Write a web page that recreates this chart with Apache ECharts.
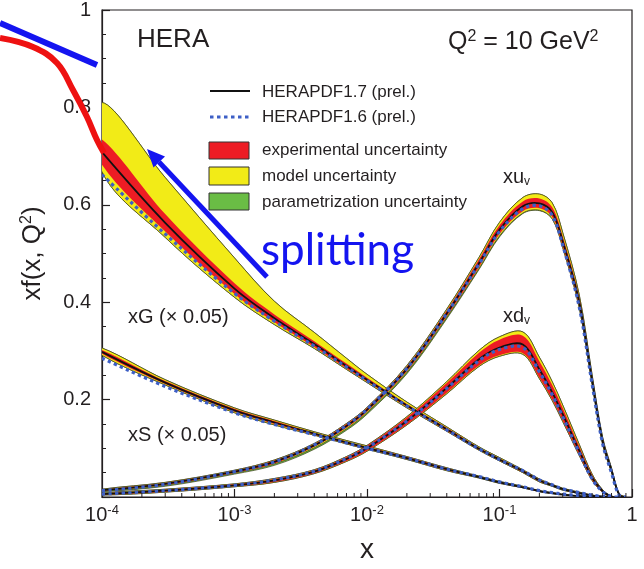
<!DOCTYPE html>
<html><head><meta charset="utf-8">
<script src="https://cdn.jsdelivr.net/npm/echarts@6/dist/echarts.min.js"></script>
<style>html,body{margin:0;padding:0;background:#fff}#c{width:644px;height:569px}</style>
</head><body><div id="c"></div>
<script>
// ---------- data ----------
const xGrid = [1e-4, 3e-4, 1e-3, 2e-3, 4e-3, 7e-3, 0.01, 0.02, 0.04, 0.07, 0.1, 0.15, 0.2, 0.25, 0.3, 0.4, 0.5, 0.6, 0.7, 0.8, 0.9];

// xG (x 0.05), HERAPDF1.7
const gluon      = [0.708, 0.563, 0.428, 0.367, 0.314, 0.269, 0.241, 0.188, 0.139, 0.099, 0.077, 0.053, 0.034, 0.024, 0.016, 0.008, 0.003, 0.001, 0, null, null];
const gluonExp   = [0.026, 0.018, 0.011, 0.008, 0.006, 0.005, 0.004, 0.003, 0.003, 0.002, 0.002, 0.002, 0.002, 0.001, 0.001, 0.001, 0.001, 0, 0, null, null];
const gluonModUp = [0.076, 0.075, 0.052, 0.027, 0.018, 0.011, 0.007, 0.004, 0.002, 0.002, 0.002, 0.001, 0.001, 0.001, 0.001, 0.001, 0, 0, 0, null, null];
const gluonModDn = [0.014, 0.012, 0.007, 0.005, 0.003, 0.002, 0.002, 0.002, 0.001, 0.001, 0.001, 0.001, 0.001, 0.001, 0.001, 0, 0, 0, 0, null, null];
const gluon16    = [0.662, 0.540, 0.418, 0.361, 0.310, 0.267, 0.239, 0.187, 0.138, 0.099, 0.077, 0.054, 0.035, 0.025, 0.017, 0.009, 0.004, 0.001, 0, null, null];

// xS (x 0.05)
const sea      = [0.298, 0.235, 0.178, 0.153, 0.130, 0.112, 0.101, 0.080, 0.057, 0.041, 0.030, 0.020, 0.012, 0.008, 0.005, 0.002, 0.0005, 0, null, null, null];
const seaExp   = [0.004, 0.003, 0.003, 0.003, 0.002, 0.002, 0.002, 0.002, 0.002, 0.001, 0.001, 0.001, 0.001, 0.001, 0, 0, 0, 0, null, null, null];
const seaModUp = [0.004, 0.003, 0.002, 0.002, 0.002, 0.002, 0.002, 0.001, 0.001, 0.001, 0.001, 0.001, 0, 0, 0, 0, 0, 0, null, null, null];
const seaModDn = [0.003, 0.002, 0.002, 0.002, 0.001, 0.001, 0.001, 0.001, 0.001, 0.001, 0.001, 0, 0, 0, 0, 0, 0, 0, null, null, null];
const sea16    = [0.285, 0.227, 0.173, 0.149, 0.128, 0.111, 0.100, 0.080, 0.057, 0.042, 0.031, 0.021, 0.013, 0.009, 0.006, 0.003, 0.001, 0, null, null, null];

// xu_v
const uv      = [0.014, 0.027, 0.052, 0.072, 0.106, 0.146, 0.179, 0.263, 0.377, 0.480, 0.549, 0.597, 0.603, 0.585, 0.525, 0.400, 0.240, 0.115, 0.055, 0.005, 0];
const uvExp   = [0.001, 0.002, 0.002, 0.003, 0.003, 0.004, 0.004, 0.005, 0.006, 0.008, 0.009, 0.010, 0.010, 0.010, 0.010, 0.009, 0.007, 0.005, 0.003, 0.001, 0];
const uvModUp = [0.001, 0.001, 0.001, 0.001, 0.001, 0.001, 0.001, 0.002, 0.003, 0.004, 0.006, 0.008, 0.009, 0.009, 0.008, 0.006, 0.004, 0.003, 0.002, 0.001, 0];
const uvModDn = [0.001, 0.001, 0.001, 0.001, 0.002, 0.002, 0.002, 0.002, 0.002, 0.003, 0.004, 0.004, 0.004, 0.004, 0.003, 0.003, 0.002, 0.002, 0.001, 0, 0];
const uvParDn = [0.001, 0.002, 0.002, 0.003, 0.003, 0.003, 0.003, 0.003, 0.003, 0.002, 0.002, 0.001, 0.001, 0, 0, 0, 0, 0, 0, 0, 0];
const uv16    = [0.013, 0.026, 0.052, 0.072, 0.107, 0.147, 0.180, 0.264, 0.377, 0.478, 0.545, 0.592, 0.598, 0.578, 0.517, 0.390, 0.232, 0.110, 0.050, 0.004, 0];

// xd_v
const dv      = [0.006, 0.013, 0.024, 0.034, 0.052, 0.078, 0.100, 0.156, 0.224, 0.283, 0.307, 0.313, 0.262, 0.215, 0.170, 0.095, 0.040, 0.012, 0.001, 0, null];
const dvExp   = [0.001, 0.002, 0.002, 0.003, 0.003, 0.004, 0.005, 0.007, 0.010, 0.013, 0.016, 0.018, 0.017, 0.015, 0.013, 0.009, 0.005, 0.002, 0.001, 0, null];
const dvModUp = [0.001, 0.001, 0.001, 0.001, 0.001, 0.001, 0.001, 0.002, 0.003, 0.005, 0.006, 0.008, 0.008, 0.007, 0.006, 0.004, 0.002, 0.001, 0, 0, null];
const dvModDn = [0.001, 0.001, 0.001, 0.001, 0.001, 0.001, 0.001, 0.001, 0.002, 0.002, 0.002, 0.002, 0.002, 0.002, 0.002, 0.001, 0.001, 0, 0, 0, null];
const dv16    = [0.006, 0.013, 0.024, 0.035, 0.053, 0.079, 0.101, 0.156, 0.223, 0.280, 0.303, 0.307, 0.257, 0.210, 0.165, 0.091, 0.037, 0.011, 0.001, 0, null];

// axis ticks
const yTickLabels = ['', '0.2', '0.4', '0.6', '0.8', '1'];
const minorMultipliers = [2, 3, 4, 5, 6, 7, 8, 9];
const decadeStarts = [1e-4, 1e-3, 1e-2, 1e-1];

// ---------- styling ----------
const FONT = '"Liberation Sans", Arial, Helvetica, sans-serif';
const INK = '#231f20';
const RED = '#ed1c24', YEL = '#f2eb17', GRN = '#6abd45', EDGE = '#3d3d1a';
const BLUE16 = '#3d5fc6';
const ANNO = '#1414f0';
const SM = 0.35;

function sumArr(base, arrs, sign) {
  return base.map((v, i) => v == null ? null : arrs.reduce((s, a) => s + sign * ((a && a[i]) || 0), v));
}
function idxList(vals) {
  const out = [];
  xGrid.forEach((x, i) => { if (vals[i] != null) out.push(i); });
  return out;
}
// band polygon placed through the axis scales
function bandSeries(lo, hi, color, edge, z) {
  const ids = idxList(lo);
  return {
    type: 'custom', z: z, silent: true, clip: true,
    data: [[xGrid[ids[0]], lo[ids[0]]]], encode: { x: 0, y: 1 },
    renderItem: function (params, api) {
      const pts = [];
      ids.forEach(i => pts.push(api.coord([xGrid[i], hi[i]])));
      ids.slice().reverse().forEach(i => pts.push(api.coord([xGrid[i], lo[i]])));
      return { type: 'polygon', shape: { points: pts, smooth: SM },
        style: edge ? { fill: color, stroke: EDGE, lineWidth: 0.7 } : { fill: color } };
    }
  };
}
function lineSeries(vals, style, z) {
  const ids = idxList(vals);
  return {
    type: 'custom', z: z, silent: true, clip: true,
    data: [[xGrid[ids[0]], vals[ids[0]]]], encode: { x: 0, y: 1 },
    renderItem: function (params, api) {
      const pts = ids.map(i => api.coord([xGrid[i], vals[i]]));
      return { type: 'polyline', shape: { points: pts, smooth: SM }, style: Object.assign({ fill: null }, style) };
    }
  };
}

const curves = [
  { c: gluon, exp: gluonExp, mu: gluonModUp, md: gluonModDn, pd: null, c16: gluon16 },
  { c: sea, exp: seaExp, mu: seaModUp, md: seaModDn, pd: null, c16: sea16 },
  { c: uv, exp: uvExp, mu: uvModUp, md: uvModDn, pd: uvParDn, c16: uv16 },
  { c: dv, exp: dvExp, mu: dvModUp, md: dvModDn, pd: null, c16: dv16 }
];

const series = [];
curves.forEach(cv => {
  series.push(bandSeries(sumArr(cv.c, [cv.exp, cv.md, cv.pd], -1), sumArr(cv.c, [cv.exp, cv.mu], 1), GRN, true, 2));
  series.push(bandSeries(sumArr(cv.c, [cv.exp, cv.md], -1), sumArr(cv.c, [cv.exp, cv.mu], 1), YEL, true, 2));
  series.push(bandSeries(sumArr(cv.c, [cv.exp], -1), sumArr(cv.c, [cv.exp], 1), RED, false, 2));
});
curves.forEach(cv => series.push(lineSeries(cv.c, { stroke: '#111', lineWidth: 1.8 }, 3)));
curves.forEach(cv => series.push(lineSeries(cv.c16, { stroke: BLUE16, lineWidth: 3.2, lineDash: [3.3, 3.3] }, 4)));

// minor log ticks on the x axis, placed through the axis scale
const minorData = [];
decadeStarts.forEach(d => minorMultipliers.forEach(m => minorData.push([d * m, 0])));
series.push({
  type: 'custom', data: minorData, encode: { x: 0, y: 1 }, z: 6, silent: true, clip: false,
  renderItem: function (params, api) {
    const p = api.coord([api.value(0), 0]);
    return { type: 'line', shape: { x1: p[0], y1: p[1], x2: p[0], y2: p[1] - 4 }, style: { stroke: INK, lineWidth: 1 } };
  }
});

const supRich = { sup: { fontSize: 13, verticalAlign: 'top', lineHeight: 14, fontFamily: FONT, color: INK } };

const option = {
  animation: false,
  backgroundColor: '#fff',
  grid: { left: 102, right: 12, top: 10, bottom: 72, show: true, borderColor: INK, borderWidth: 1.2, backgroundColor: 'transparent' },
  xAxis: {
    type: 'log', logBase: 10, min: 1e-4, max: 1,
    axisLine: { show: true, lineStyle: { color: INK, width: 1.2 } },
    axisTick: { show: true, inside: true, length: 8, lineStyle: { color: INK, width: 1.2 } },
    minorTick: { show: false }, splitLine: { show: false }, minorSplitLine: { show: false },
    axisLabel: {
      margin: 7, fontSize: 20, color: INK, fontFamily: FONT, lineHeight: 22,
      formatter: function (v) { const e = Math.round(Math.log10(v)); return e === 0 ? '1' : '10{sup|' + e + '}'; },
      rich: supRich
    },
    name: 'x', nameLocation: 'middle', nameGap: 39,
    nameTextStyle: { fontSize: 28, color: INK, fontFamily: FONT }
  },
  yAxis: {
    type: 'value', min: 0, max: 1, interval: 0.2,
    axisLine: { show: true, lineStyle: { color: INK, width: 1.2 } },
    axisTick: { show: true, inside: true, length: 8, lineStyle: { color: INK, width: 1.2 } },
    minorTick: { show: true, splitNumber: 4, length: 4, lineStyle: { color: INK, width: 1 } },
    splitLine: { show: false },
    axisLabel: {
      margin: 11, fontSize: 20, color: INK, fontFamily: FONT,
      formatter: function (v) { return yTickLabels[Math.round(v * 5)]; }
    },
    name: 'xf(x, Q{sup|2})', nameLocation: 'middle', nameGap: 55, nameRotate: 90,
    nameTextStyle: { fontSize: 26, color: INK, fontFamily: FONT, lineHeight: 28,
      rich: { sup: { fontSize: 16, verticalAlign: 'top', lineHeight: 16, fontFamily: FONT, color: INK } } }
  },
  series: series,
  graphic: [
    { type: 'text', x: 137, y: 40, z: 50, style: { text: 'HERA', fontSize: 26, fontFamily: FONT, fill: INK, verticalAlign: 'middle' } },
    { type: 'text', x: 448, y: 42, z: 50, style: { text: 'Q{sup|2} = 10 GeV{sup|2}', fontSize: 25, fontFamily: FONT, fill: INK, verticalAlign: 'middle', lineHeight: 27,
      rich: { sup: { fontSize: 16, verticalAlign: 'top', lineHeight: 16, fontFamily: FONT, fill: INK } } } },
    // legend
    { type: 'line', z: 50, shape: { x1: 210, y1: 91, x2: 250, y2: 91 }, style: { stroke: '#111', lineWidth: 2 } },
    { type: 'line', z: 50, shape: { x1: 210, y1: 117, x2: 250, y2: 117 }, style: { stroke: BLUE16, lineWidth: 3.2, lineDash: [3.5, 3.5] } },
    { type: 'rect', z: 50, shape: { x: 209, y: 142, width: 40, height: 17 }, style: { fill: RED, stroke: '#333', lineWidth: 1 } },
    { type: 'rect', z: 50, shape: { x: 209, y: 167, width: 40, height: 18 }, style: { fill: YEL, stroke: '#333', lineWidth: 1 } },
    { type: 'rect', z: 50, shape: { x: 209, y: 193, width: 40, height: 17 }, style: { fill: GRN, stroke: '#333', lineWidth: 1 } },
    { type: 'text', x: 262, y: 92, z: 50, style: { text: 'HERAPDF1.7 (prel.)', fontSize: 17, fontFamily: FONT, fill: INK, verticalAlign: 'middle' } },
    { type: 'text', x: 262, y: 117, z: 50, style: { text: 'HERAPDF1.6 (prel.)', fontSize: 17, fontFamily: FONT, fill: INK, verticalAlign: 'middle' } },
    { type: 'text', x: 262, y: 150, z: 50, style: { text: 'experimental uncertainty', fontSize: 17, fontFamily: FONT, fill: INK, verticalAlign: 'middle' } },
    { type: 'text', x: 262, y: 176, z: 50, style: { text: 'model uncertainty', fontSize: 17, fontFamily: FONT, fill: INK, verticalAlign: 'middle' } },
    { type: 'text', x: 262, y: 202, z: 50, style: { text: 'parametrization uncertainty', fontSize: 17, fontFamily: FONT, fill: INK, verticalAlign: 'middle' } },
    // curve labels
    { type: 'text', x: 503, y: 177, z: 50, style: { text: 'xu{sub|v}', fontSize: 20, fontFamily: FONT, fill: INK, verticalAlign: 'middle', lineHeight: 22,
      rich: { sub: { fontSize: 12, verticalAlign: 'bottom', lineHeight: 12, fontFamily: FONT, fill: INK } } } },
    { type: 'text', x: 503, y: 316, z: 50, style: { text: 'xd{sub|v}', fontSize: 20, fontFamily: FONT, fill: INK, verticalAlign: 'middle', lineHeight: 22,
      rich: { sub: { fontSize: 12, verticalAlign: 'bottom', lineHeight: 12, fontFamily: FONT, fill: INK } } } },
    { type: 'text', x: 128, y: 317, z: 50, style: { text: 'xG (\u00d7 0.05)', fontSize: 20, fontFamily: FONT, fill: INK, verticalAlign: 'middle' } },
    { type: 'text', x: 128, y: 435, z: 50, style: { text: 'xS (\u00d7 0.05)', fontSize: 20, fontFamily: FONT, fill: INK, verticalAlign: 'middle' } },
    // hand-drawn annotations
    { type: 'line', z: 60, shape: { x1: 0, y1: 23, x2: 97, y2: 65 }, style: { stroke: ANNO, lineWidth: 6 } },
    { type: 'polyline', z: 60, shape: { points: [[0, 38], [33, 47], [57, 63], [73, 90], [87, 117], [97, 140], [104, 153]], smooth: 0.4 }, style: { stroke: '#ee1111', lineWidth: 6, fill: null } },
    { type: 'line', z: 60, shape: { x1: 267, y1: 277, x2: 159, y2: 162 }, style: { stroke: ANNO, lineWidth: 5 } },
    { type: 'polygon', z: 60, shape: { points: [[147, 149], [165, 156.6], [153.5, 167.6]] }, style: { fill: ANNO } },
    { type: 'text', x: 261, y: 251, z: 60, style: { text: 'splitting', fontSize: 44, fontFamily: 'Lato, "Open Sans", sans-serif', fill: ANNO, verticalAlign: 'middle' } }
  ]
};

const chart = echarts.init(document.getElementById('c'));
chart.setOption(option);
</script>
</body></html>
